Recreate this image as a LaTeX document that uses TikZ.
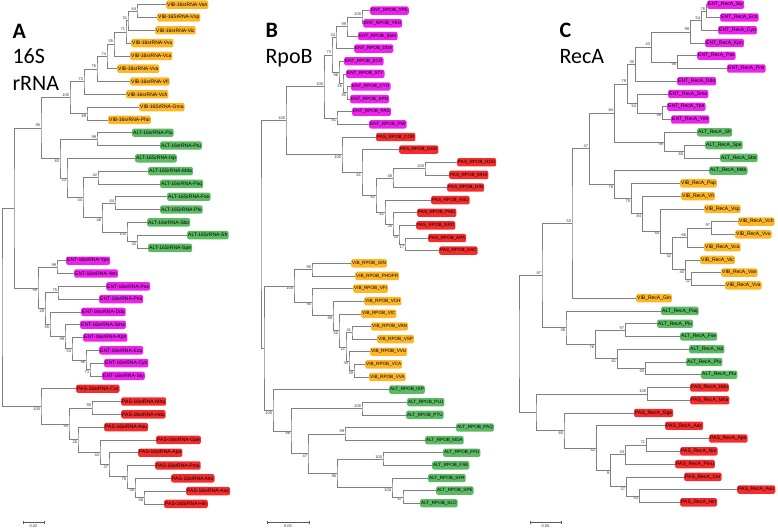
\documentclass[tikz,border=0pt]{standalone}
\usepackage{fontspec}
\setmainfont{Liberation Sans}
\newfontfamily\titlefont{Carlito}
\usetikzlibrary{calc}
\usetikzlibrary{arrows.meta}
\definecolor{VIB}{RGB}{253,182,40}
\definecolor{ALT}{RGB}{92,186,100}
\definecolor{ENT}{RGB}{238,34,238}
\definecolor{PAS}{RGB}{244,44,44}
\tikzset{
    phylo tree/.style={
            x=1pt,y=-1pt,
            branch/.style={draw=gray,line width=.6pt},
            leaf/.style={anchor=west,rounded corners=2pt,inner xsep=1pt,inner ysep=0pt,
                    minimum height=8.4pt,text=black,font=\fontsize{5}{5}\selectfont},
            support/.style={inner sep=.8pt,text=black!80,font=\fontsize{4}{4}\selectfont},
            title/.style={anchor=base west,font=\titlefont\fontsize{22}{22}\selectfont},
            scalebar/.style={draw=gray!70!black,line width=.5pt,{Bar[width=3pt]}-{Bar[width=3pt]}}
        }
    }
% inner node: name, x, upper child, lower child, support value, side of the value
\newcommand{\clade}[6]{%
    \path ($(#3)!.5!(#4)$) coordinate (mid);
    \coordinate (#1) at (#2,0 |- mid);
    \draw [branch] (#3) -| (#1) |- (#4);
    \node [support,#6] at (#1) {#5};
}

\begin{document}
\begin{tikzpicture}[phylo tree]
    \useasboundingbox (0,0) rectangle (778,532);

    % panel A
    \node [title,font=\titlefont\bfseries\fontsize{22}{22}\selectfont] (ttlA) at (9,38.3) {A};
    \node [title] (ttlA16) at (9,64) {16S};
    \node [title] (ttlArna) at (9,90.7) {rRNA};
    \foreach \n/\x/\g/\t [count=\i from 0] in {
            Van/166/VIB/VIB-16srRNA-Van, Vsp/157/VIB/VIB-16SrRNA-Vsp, Vic/155/VIB/VIB-16srRNA-Vic,
            Vvu/131/VIB/VIB-16srRNA-Vvu, Vca/130/VIB/VIB-16srRNA-Vca, Vva/117/VIB/VIB-16srRNA-Vva,
            Vfi/130/VIB/VIB-16srRNA-Vfi, Vch/126/VIB/VIB-16srRNA-Vch, Gma/139/VIB/VIB-16SrRNA-Gma,
            Pho/108/VIB/VIB-16srRNA-Pho,
            Plu/132/ALT/ALT-16srRNA-Plu, Ptu/160/ALT/ALT-16srRNA-Ptu, Isp/135/ALT/ALT-16SrRNA-Isp,
            Mda/148/ALT/ALT-16SrRNA-Mda, Paq/160/ALT/ALT-16srRNA-Paq, Fse/167/ALT/ALT-16SrRNA-Fse,
            Pfu/160/ALT/ALT-16SrRNA-Pfu, Sbo/147/ALT/ALT-16srRNA-Sbo, Sfr/187/ALT/ALT-16SrRNA-Sfr,
            Spe/148/ALT/ALT-16SrRNA-Spe,
            Ypo/66/ENT/ENT-16srRNA-Ypo, Yen/74/ENT/ENT-16srRNA-Yen, Pas/106/ENT/ENT-16srRNA-Pas,
            Pmi/99/ENT/ENT-16srRNA-Pmi, Dda/81/ENT/ENT-16srRNA-Dda, Sma/80/ENT/ENT-16srRNA-Sma,
            Kpn/83/ENT/ENT-16srRNA-Kpn, Eco/99/ENT/ENT-16srRNA-Eco, Cyo/104/ENT/ENT-16srRNA-Cyo,
            Sty/102/ENT/ENT-16srRNA-Sty,
            Cor/76/PAS/PAS-16srRNA-Cor, Mha/121/PAS/PAS-16srRNA-Mha, Hdu/121/PAS/PAS-16srRNA-Hdu,
            Asu/104/PAS/PAS-16srRNA-Asu, Gpe/156/PAS/PAS-16srRNA-Gpe, Apa/138/PAS/PAS-16srRNA-Apa,
            Pmu/155/PAS/PAS-16srRNA-Pmu, Nro/171/PAS/PAS-16srRNA-Nro, Aac/186/PAS/PAS-16srRNA-Aac,
            Hin/164/PAS/PAS-16SrRNA-Hin}
        \node [leaf,fill=\g] (a\n) at (\x,4.7+12.8*\i) {\t};
    \clade{an1}{137}{aVan}{aVsp}{64}{above left}
    \clade{an2}{128}{an1}{aVic}{31}{above left}
    \clade{an3}{126}{an2}{aVvu}{71}{above left}
    \clade{an4}{114}{an3}{aVca}{55}{above left}
    \clade{an5}{107}{an4}{aVva}{74}{above left}
    \clade{an6}{97}{an5}{aVfi}{76}{above left}
    \clade{an7}{84}{an6}{aVch}{72}{above left}
    \clade{an8}{87}{aGma}{aPho}{89}{below left}
    \clade{an9}{70}{an7}{an8}{100}{above left}
    \clade{aa1}{97}{aPlu}{aPtu}{99}{above left}
    \clade{aa2}{98}{aMda}{aPaq}{42}{above left}
    \clade{aa3}{115}{aFse}{aPfu}{64}{above left}
    \clade{aa4}{137}{aSfr}{aSpe}{32}{below left}
    \clade{aa5}{127}{aSbo}{aa4}{100}{below left}
    \clade{aa6}{102}{aa3}{aa5}{46}{below left}
    \clade{aa7}{83}{aa2}{aa6}{44}{below left}
    \clade{aa8}{67}{aIsp}{aa7}{23}{below left}
    \clade{aa9}{60}{aa1}{aa8}{83}{below left}
    \clade{av}{41}{an9}{aa9}{95}{above left}
    \clade{ae1}{57}{aYpo}{aYen}{99}{above left}
    \clade{ae2}{58}{aPas}{aPmi}{75}{above left}
    \clade{ae3}{90}{aCyo}{aSty}{73}{below left}
    \clade{ae4}{86}{aEco}{ae3}{96}{below left}
    \clade{ae5}{72}{aKpn}{ae4}{53}{below left}
    \clade{ae6}{65}{aSma}{ae5}{99}{below left}
    \clade{ae7}{50}{aDda}{ae6}{55}{below left}
    \clade{ae8}{45}{ae2}{ae7}{28}{below left}
    \clade{ae9}{38}{ae1}{ae8}{99}{below left}
    \clade{aw}{14}{av}{ae9}{}{left}
    \clade{ap1}{92}{aMha}{aHdu}{90}{above left}
    \clade{ap3}{144}{aAac}{aHin}{58}{below left}
    \clade{ap4}{135}{aNro}{ap3}{36}{below left}
    \clade{ap5}{127}{aPmu}{ap4}{78}{below left}
    \clade{ap6}{109}{aApa}{ap5}{37}{below left}
    \clade{ap7}{100}{aGpe}{ap6}{44}{below left}
    \clade{ap8}{78}{aAsu}{ap7}{26}{below left}
    \clade{ap2}{69}{ap1}{ap8}{95}{below left}
    \clade{apr}{41}{aCor}{ap2}{100}{below left}
    \clade{aroot}{2}{aw}{apr}{}{left}
    \coordinate (sbA1) at (23,522);
    \coordinate (sbA2) at (44,522);
    \draw [scalebar] (sbA1) -- (sbA2) node [midway,below=1.5pt,support] {0.02};

    % panel B
    \node [title,font=\titlefont\bfseries\fontsize{22}{22}\selectfont] (ttlB) at (262,37.3) {B};
    \node [title] (ttlBrpo) at (262,64) {RpoB};
    \foreach \n/\x/\g [count=\i from 0] in {
            YPE/370/ENT, YEN/363/ENT, SMA/358/ENT, DDA/354/ENT, ECO/344/ENT,
            STY/346/ENT, CYO/351/ENT, KPN/350/ENT, PAG/352/ENT, PMI/369/ENT,
            COR/376/PAS, GGE/399/PAS, HDU/457/PAS, MHA/449/PAS, HIN/447/PAS,
            ASU/431/PAS, PMU/417/PAS, NRO/416/PAS, APA/428/PAS, AAC/439/PAS,
            GIN/351/VIB, PHOPR/355/VIB, VFI/353/VIB, VCH/364/VIB, VIC/361/VIB,
            VAN/371/VIB, VSP/377/VIB, VVU/370/VIB, VCA/365/VIB, VVA/369/VIB,
            ISP/389/ALT, PLU/407/ALT, PTU/406/ALT, PAQ/456/ALT, MDA/425/ALT,
            FFU/443/ALT, FSE/432/ALT, SFR/428/ALT, SPE/436/ALT, SLO/420/ALT}
        \node [leaf,fill=\g,font=\fontsize{4.6}{4.6}\selectfont] (b\n) at (\x,10.7+12.63*\i) {\g\_RPOB\_\n};
    \clade{bn1}{362}{bYPE}{bYEN}{100}{above left}
    \clade{bn2}{347}{bn1}{bSMA}{99}{above left}
    \clade{bn3}{336}{bn2}{bDDA}{34}{above left}
    \clade{bn5}{347}{bCYO}{bKPN}{90}{below left}
    \clade{bn6}{343}{bSTY}{bn5}{55}{below left}
    \clade{bn7}{339}{bECO}{bn6}{96}{below left}
    \clade{bn8}{332}{bn3}{bn7}{73}{above left}
    \clade{bn9}{337}{bPAG}{bPMI}{81}{below left}
    \clade{bn10}{324}{bn8}{bn9}{100}{above left}
    \clade{bp4}{425}{bHDU}{bMHA}{100}{above left}
    \clade{bp5}{393}{bp4}{bHIN}{48}{above left}
    \clade{bp9}{405}{bAPA}{bAAC}{17}{below left}
    \clade{bp8}{399}{bNRO}{bp9}{35}{below left}
    \clade{bp7}{393}{bPMU}{bp8}{35}{below left}
    \clade{bp6}{385}{bASU}{bp7}{61}{below left}
    \clade{bp3}{376}{bp5}{bp6}{62}{below left}
    \clade{bp2}{362}{bGGE}{bp3}{61}{below left}
    \clade{bp1}{342}{bCOR}{bp2}{100}{below left}
    \clade{bep}{286}{bn10}{bp1}{100}{above left}
    \clade{bv1}{312}{bGIN}{bPHOPR}{90}{above left}
    \clade{bv8}{354}{bVCA}{bVVA}{39}{below left}
    \clade{bv7}{349}{bVVU}{bv8}{30}{below left}
    \clade{bv6}{352}{bVAN}{bVSP}{41}{above left}
    \clade{bv5}{346}{bv6}{bv7}{21}{below left}
    \clade{bv4}{339}{bVIC}{bv5}{50}{below left}
    \clade{bv3}{333}{bVCH}{bv4}{99}{below left}
    \clade{bv2}{312}{bVFI}{bv3}{94}{below left}
    \clade{bvr}{294}{bv1}{bv2}{100}{below left}
    \clade{ba1}{362}{bPLU}{bPTU}{100}{above left}
    \clade{ba2}{345}{bPAQ}{bMDA}{99}{above left}
    \clade{ba3}{383}{bFFU}{bFSE}{100}{above left}
    \clade{ba4}{403}{bSPE}{bSLO}{87}{below left}
    \clade{ba5}{392}{bSFR}{ba4}{100}{below left}
    \clade{ba6}{337}{ba3}{ba5}{96}{below left}
    \clade{ba7}{308}{ba2}{ba6}{47}{below left}
    \clade{ba8}{291}{ba1}{ba7}{88}{below left}
    \clade{bar}{273}{bISP}{ba8}{100}{below left}
    \clade{bva}{264}{bvr}{bar}{}{left}
    \clade{broot}{261}{bep}{bva}{}{left}
    \coordinate (sbB1) at (267,522);
    \coordinate (sbB2) at (309,522);
    \draw [scalebar] (sbB1) -- (sbB2) node [midway,below=1.5pt,support] {0.05};

    % panel C
    \node [title,font=\titlefont\bfseries\fontsize{22}{22}\selectfont] (ttlC) at (556,37.3) {C};
    \node [title] (ttlCrec) at (556,63.3) {RecA};
    \foreach \n/\x/\g [count=\i from 0] in {
            Sty/707/ENT, Eco/720/ENT, Cyo/718/ENT, Kpn/705/ENT, Pas/697/ENT,
            Pmi/727/ENT, Dda/677/ENT, Sma/668/ENT, Ype/667/ENT, Yen/671/ENT,
            Sfr/697/ALT, Spe/705/ALT, Sbo/720/ALT, Mda/709/ALT,
            Pap/680/VIB, Vfi/681/VIB, Vsp/704/VIB, Vch/738/VIB, Vvu/735/VIB,
            Vca/704/VIB, Vic/700/VIB, Van/721/VIB, Vva/725/VIB, Gin/636/VIB,
            Paq/661/ALT, Plu/657/ALT, Fse/680/ALT, Isp/689/ALT, Pfu/686/ALT, Ptu/701/ALT,
            Hdu/690/PAS, Mha/690/PAS, Gge/634/PAS, Aac/665/PAS, Apa/709/PAS,
            Nro/680/PAS, Pmu/675/PAS, Cor/684/PAS, Asu/737/PAS, Hin/680/PAS}
        \node [leaf,fill=\g] (c\n) at (\x,4.7+12.76*\i) {\g\_RecA\_\n};
    \clade{cn1}{706}{cSty}{cEco}{76}{above left}
    \clade{cn2}{701}{cn1}{cCyo}{54}{above left}
    \clade{cn3}{690}{cn2}{cKpn}{99}{above left}
    \clade{cn4}{677}{cPas}{cPmi}{96}{below left}
    \clade{cn5}{651}{cn3}{cn4}{43}{above left}
    \clade{cn6}{635}{cn5}{cDda}{30}{above left}
    \clade{cn7}{662}{cYpe}{cYen}{98}{below left}
    \clade{cn8}{637}{cSma}{cn7}{54}{below left}
    \clade{cn9}{627}{cn6}{cn8}{79}{above left}
    \clade{ca1}{684}{cSpe}{cSbo}{80}{below left}
    \clade{ca2}{664}{cSfr}{ca1}{99}{below left}
    \clade{cn10}{614}{cn9}{ca2}{84}{above left}
    \clade{cv5}{711}{cVch}{cVvu}{97}{above left}
    \clade{cv6}{687}{cv5}{cVca}{66}{above left}
    \clade{cv7}{691}{cVan}{cVva}{11}{below left}
    \clade{cv8}{685}{cVic}{cv7}{40}{below left}
    \clade{cv4}{672}{cv6}{cv8}{32}{below left}
    \clade{cv3}{660}{cVsp}{cv4}{44}{below left}
    \clade{cv2}{642}{cVfi}{cv3}{84}{below left}
    \clade{cv1}{631}{cPap}{cv2}{75}{below left}
    \clade{cm}{614}{cMda}{cv1}{78}{below left}
    \clade{cn11}{589}{cn10}{cm}{47}{above left}
    \clade{cn12}{572}{cn11}{cGin}{53}{above left}
    \clade{cg3}{625}{cPlu}{cFse}{97}{above left}
    \clade{cg5}{645}{cPfu}{cPtu}{93}{below left}
    \clade{cg4}{617}{cIsp}{cg5}{61}{below left}
    \clade{cg2}{595}{cg3}{cg4}{76}{below left}
    \clade{cg1}{566}{cPaq}{cg2}{38}{below left}
    \clade{cn13}{542}{cn12}{cg1}{97}{above left}
    \clade{cp1}{647}{cHdu}{cMha}{100}{above left}
    \clade{cp2}{646}{cApa}{cNro}{71}{above left}
    \clade{cp3}{625}{cp2}{cPmu}{43}{above left}
    \clade{cp4}{639}{cAsu}{cHin}{54}{below left}
    \clade{cp5}{626}{cCor}{cp4}{27}{below left}
    \clade{cp6}{610}{cp3}{cp5}{9}{below left}
    \clade{cp7}{596}{cAac}{cp6}{42}{below left}
    \clade{cp8}{564}{cGge}{cp7}{65}{below left}
    \clade{cp9}{536}{cp1}{cp8}{}{left}
    \clade{croot}{519}{cn13}{cp9}{}{left}
    \coordinate (sbC1) at (530,522);
    \coordinate (sbC2) at (561,522);
    \draw [scalebar] (sbC1) -- (sbC2) node [midway,below=1.5pt,support] {0.05};
\end{tikzpicture}
\end{document}
